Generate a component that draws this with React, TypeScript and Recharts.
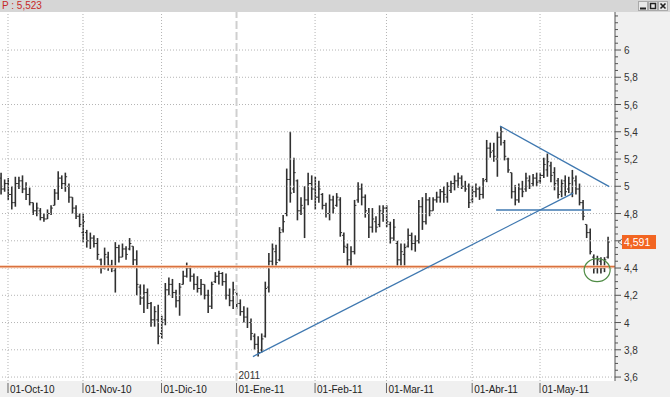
import React from 'react';
import { ComposedChart, Bar, XAxis, YAxis, CartesianGrid, ReferenceLine, ReferenceDot } from 'recharts';

// ---- data (one bar per trading session, index order) ----
const lows = [
  4.94, 4.96, 4.90, 4.83, 4.85, 4.98, 4.95, 4.90, 4.86, 4.79,
  4.78, 4.75, 4.74, 4.76, 4.79, 4.86, 4.90, 4.98, 4.96, 4.88,
  4.80, 4.76, 4.70, 4.59, 4.55, 4.54, 4.55, 4.46, 4.36, 4.39,
  4.38, 4.37, 4.22, 4.44, 4.48, 4.46, 4.53, 4.42, 4.20, 4.13,
  4.07, 4.10, 3.97, 3.97, 3.84, 3.88, 3.98, 4.20, 4.18, 4.11,
  4.05, 4.28, 4.33, 4.30, 4.24, 4.22, 4.20, 4.17, 4.07, 4.10,
  4.29, 4.28, 4.27, 4.17, 4.12, 4.10, 4.10, 4.05, 4.00, 3.96,
  3.87, 3.80, 3.75, 3.78, 3.89, 4.22, 4.40, 4.41, 4.45, 4.66,
  4.78, 4.88, 4.95, 4.75, 4.79, 4.62, 4.86, 4.90, 4.83, 4.88,
  4.83, 4.77, 4.75, 4.80, 4.85, 4.63, 4.51, 4.41, 4.41, 4.50,
  4.88, 4.86, 4.77, 4.62, 4.66, 4.66, 4.70, 4.74, 4.70, 4.58,
  4.60, 4.41, 4.41, 4.41, 4.55, 4.53, 4.52, 4.58, 4.68, 4.72,
  4.78, 4.82, 4.88, 4.88, 4.88, 4.88, 4.95, 4.97, 4.99, 4.98,
  4.96, 4.84, 4.88, 4.92, 4.90, 4.91, 5.03, 5.21, 5.18, 5.07,
  5.30, 5.19, 5.10, 4.91, 4.86, 4.88, 4.92, 4.96, 4.98, 5.00,
  5.00, 5.02, 5.06, 5.07, 5.03, 4.97, 4.91, 4.92, 4.93, 4.95,
  4.92, 4.94, 4.86, 4.75, 4.62, 4.50, 4.36, 4.36, 4.36, 4.37,
  4.47,
];
const highs = [
  5.10, 5.05, 5.06, 5.00, 5.07, 5.07, 5.08, 5.03, 4.99, 4.88,
  4.88, 4.84, 4.80, 4.83, 4.86, 4.98, 5.11, 5.08, 5.10, 5.02,
  4.92, 4.86, 4.80, 4.80, 4.68, 4.66, 4.64, 4.62, 4.47, 4.55,
  4.52, 4.46, 4.59, 4.57, 4.58, 4.56, 4.62, 4.56, 4.53, 4.28,
  4.28, 4.25, 4.15, 4.12, 4.13, 4.05, 4.29, 4.33, 4.32, 4.24,
  4.29, 4.38, 4.44, 4.42, 4.36, 4.34, 4.32, 4.28, 4.24, 4.30,
  4.37, 4.38, 4.37, 4.36, 4.25, 4.30, 4.22, 4.17, 4.12, 4.11,
  4.03, 3.92, 3.90, 3.92, 4.30, 4.51, 4.58, 4.57, 4.70, 4.79,
  5.13, 5.40, 5.21, 5.05, 4.92, 5.00, 5.10, 5.08, 5.07, 5.04,
  4.95, 4.88, 4.94, 4.93, 4.95, 4.92, 4.66, 4.58, 4.56, 4.90,
  5.03, 5.02, 4.94, 4.84, 4.84, 4.78, 4.86, 4.86, 4.86, 4.74,
  4.76, 4.60, 4.58, 4.58, 4.69, 4.66, 4.64, 4.90, 4.92, 4.95,
  4.92, 4.92, 4.96, 4.98, 5.00, 5.03, 5.04, 5.08, 5.10, 5.08,
  5.04, 5.02, 5.00, 5.02, 5.00, 5.06, 5.34, 5.32, 5.32, 5.40,
  5.44, 5.34, 5.21, 5.10, 5.01, 5.02, 5.04, 5.10, 5.08, 5.09,
  5.10, 5.10, 5.21, 5.24, 5.18, 5.14, 5.06, 5.05, 5.08, 5.07,
  5.12, 5.08, 5.02, 4.90, 4.72, 4.69, 4.50, 4.49, 4.48, 4.48,
  4.63,
];
const opens = [
  5.06, 4.98, 5.02, 4.94, 4.88, 5.02, 5.04, 4.98, 4.94, 4.88,
  4.82, 4.82, 4.77, 4.76, 4.80, 4.86, 4.95, 5.06, 5.02, 5.00,
  4.92, 4.84, 4.78, 4.66, 4.66, 4.60, 4.62, 4.58, 4.46, 4.40,
  4.48, 4.42, 4.38, 4.55, 4.48, 4.54, 4.54, 4.56, 4.46, 4.26,
  4.18, 4.22, 4.14, 4.02, 4.02, 3.92, 4.02, 4.24, 4.28, 4.22,
  4.16, 4.28, 4.34, 4.40, 4.34, 4.28, 4.25, 4.28, 4.20, 4.12,
  4.30, 4.34, 4.36, 4.30, 4.20, 4.16, 4.22, 4.14, 4.08, 4.04,
  4.00, 3.90, 3.84, 3.80, 3.90, 4.26, 4.45, 4.52, 4.46, 4.68,
  4.80, 5.05, 4.98, 5.04, 4.82, 4.84, 4.90, 5.02, 4.98, 4.92,
  4.94, 4.86, 4.80, 4.90, 4.86, 4.90, 4.64, 4.55, 4.46, 4.52,
  4.90, 4.98, 4.92, 4.80, 4.70, 4.74, 4.72, 4.80, 4.84, 4.72,
  4.62, 4.58, 4.46, 4.50, 4.56, 4.64, 4.58, 4.60, 4.85, 4.74,
  4.90, 4.82, 4.90, 4.92, 4.96, 4.92, 4.97, 5.02, 5.04, 5.06,
  5.00, 5.00, 4.90, 4.96, 4.98, 4.94, 5.05, 5.28, 5.26, 5.20,
  5.36, 5.32, 5.20, 5.10, 4.96, 4.90, 4.98, 4.98, 5.04, 5.02,
  5.06, 5.04, 5.08, 5.12, 5.15, 5.10, 5.04, 4.96, 5.04, 4.98,
  4.95, 5.04, 4.98, 4.88, 4.72, 4.66, 4.48, 4.40, 4.45, 4.40,
  4.48,
];
const closes = [
  4.98, 5.02, 4.94, 4.88, 5.02, 5.04, 4.98, 4.94, 4.88, 4.82,
  4.84, 4.77, 4.76, 4.80, 4.84, 4.95, 5.06, 5.02, 5.07, 4.92,
  4.84, 4.78, 4.72, 4.74, 4.60, 4.62, 4.58, 4.50, 4.40, 4.50,
  4.42, 4.40, 4.55, 4.48, 4.54, 4.50, 4.58, 4.46, 4.28, 4.18,
  4.22, 4.14, 4.02, 4.08, 3.90, 4.00, 4.24, 4.28, 4.22, 4.16,
  4.26, 4.34, 4.40, 4.34, 4.28, 4.25, 4.28, 4.20, 4.12, 4.28,
  4.34, 4.36, 4.30, 4.20, 4.16, 4.24, 4.14, 4.08, 4.04, 4.00,
  3.92, 3.84, 3.78, 3.88, 4.25, 4.45, 4.54, 4.44, 4.66, 4.74,
  5.05, 4.95, 5.10, 4.82, 4.86, 4.90, 5.02, 4.98, 4.92, 4.98,
  4.86, 4.80, 4.90, 4.84, 4.92, 4.66, 4.56, 4.46, 4.52, 4.86,
  4.98, 4.92, 4.82, 4.70, 4.76, 4.70, 4.82, 4.84, 4.74, 4.62,
  4.70, 4.46, 4.52, 4.55, 4.64, 4.58, 4.60, 4.85, 4.74, 4.90,
  4.82, 4.90, 4.92, 4.96, 4.94, 5.00, 5.02, 5.04, 5.06, 5.00,
  4.98, 4.88, 4.96, 4.98, 4.94, 5.04, 5.28, 5.25, 5.22, 5.36,
  5.40, 5.22, 5.12, 4.96, 4.90, 4.98, 4.96, 5.06, 5.00, 5.06,
  5.03, 5.08, 5.16, 5.18, 5.08, 5.02, 4.94, 5.02, 4.96, 5.02,
  5.06, 4.98, 4.88, 4.78, 4.66, 4.52, 4.40, 4.46, 4.40, 4.46,
  4.591,
];

// ---- axes ----
const monthTickIdx = [2, 23, 45, 66, 88, 108, 132, 151];
const monthLabels = ['01-Oct-10', '01-Nov-10', '01-Dic-10', '01-Ene-11', '01-Feb-11', '01-Mar-11', '01-Abr-11', '01-May-11'];
const priceTicks = [3.6, 3.8, 4, 4.2, 4.4, 4.6, 4.8, 5, 5.2, 5.4, 5.6, 5.8, 6];
const minorStep = 0.05;
const yDomain: [number, number] = [3.571, 6.279];
const xDomain: [number, number] = [-0.24, 172.0];

// ---- annotations ----
const yearBreakIdx = 66;
const yearLabel = '2011';
const supportLevel = 4.41;
const lastPrice = 4.591;
const lastPriceLabel = '4,591';
const headerText = 'P : 5,523';
const risingLine = [{ x: 70.6, y: 3.75 }, { x: 160.3, y: 4.95 }];
const fallingLine = [{ x: 139.8, y: 5.442 }, { x: 170.4, y: 4.997 }];
const flatLine = [{ x: 138.7, y: 4.826 }, { x: 165.3, y: 4.826 }];
const circleCenter = { x: 167, y: 4.385 };

const data = lows.map((l, i) => ({
  i,
  range: [l, highs[i]],
  l,
  h: highs[i],
  o: opens[i],
  c: closes[i],
}));

const allYTicks: number[] = [];
for (let v = priceTicks[0]; v <= yDomain[1] + 1e-9; v += minorStep) {
  allYTicks.push(Math.round(v * 100) / 100);
}
const isMajor = (v: number) => priceTicks.some((t) => Math.abs(t - v) < 1e-6);
const fmt = (v: number) => String(v).replace('.', ',');

const FONT = '"Liberation Sans", Arial, sans-serif';

const OhlcShape = (props: any) => {
  const { x, y, width, height, payload } = props;
  if (x == null || y == null || height == null) return null;
  const top = Math.min(y, y + height);
  const bottom = Math.max(y, y + height);
  const span = payload.h - payload.l || 1;
  const yOf = (v: number) => top + ((payload.h - v) / span) * (bottom - top);
  const cx = x + width / 2;
  const col = '#303030';
  return (
    <g>
      <line x1={cx} x2={cx} y1={top} y2={bottom} stroke={col} strokeWidth={1.6} />
      <line x1={cx - 1.8} x2={cx} y1={yOf(payload.o)} y2={yOf(payload.o)} stroke={col} strokeWidth={1} />
      <line x1={cx} x2={cx + 1.8} y1={yOf(payload.c)} y2={yOf(payload.c)} stroke={col} strokeWidth={1} />
    </g>
  );
};

const YTick = (props: any) => {
  const { x, y, payload } = props;
  const v = payload.value;
  const major = isMajor(v);
  // the last-price badge covers the label that sits under it
  const covered = Math.abs(v - lastPrice) < 0.05;
  return (
    <g>
      <line x1={x} x2={x + (major ? 6 : 3)} y1={y} y2={y} stroke="#555" />
      {major && !covered && (
        <text x={x + 9} y={y + 4} fontSize={10} fill="#333" fontFamily={FONT}>
          {fmt(v)}
        </text>
      )}
    </g>
  );
};

const XTick = (props: any) => {
  const { x, y, payload } = props;
  const k = monthTickIdx.indexOf(payload.value);
  return (
    <g>
      <line x1={x} x2={x} y1={y + 2} y2={y + 12} stroke="#666" />
      <text x={x + 2} y={y + 12} fontSize={10} fill="#222" fontFamily={FONT}>
        {monthLabels[k]}
      </text>
    </g>
  );
};

const PriceLabel = (props: any) => {
  const vb = props.viewBox || {};
  const rx = vb.x + vb.width;
  const cy = vb.y;
  return (
    <g>
      <path d={`M ${rx + 7} ${cy - 3} L ${rx + 3} ${cy} L ${rx + 7} ${cy + 3}`} stroke="#777" fill="none" />
      <rect x={rx + 7} y={cy - 7} width={34} height={14} fill="#f26522" />
      <text x={rx + 9} y={cy + 4} fontSize={10.5} fill="#fff" fontFamily={FONT}>
        {lastPriceLabel}
      </text>
    </g>
  );
};

const YearLabel = (props: any) => {
  const vb = props.viewBox || {};
  return (
    <text x={vb.x + 2} y={vb.y + vb.height - 2} fontSize={10} fill="#333" fontFamily={FONT}>
      {yearLabel}
    </text>
  );
};

const Ellipse = (props: any) => (
  <ellipse cx={props.cx} cy={props.cy} rx={13} ry={11.5} fill="none" stroke="#4f8c45" strokeWidth={1.2} />
);

const WindowIcons = () => (
  <svg width={30} height={11} style={{ position: 'absolute', right: 2, top: 1 }}>
    <rect x={0.5} y={0.5} width={9} height={9} fill="#e8e8e8" stroke="#aaa" />
    <line x1={2} x2={8} y1={7.5} y2={7.5} stroke="#222" strokeWidth={2} />
    <rect x={10.5} y={0.5} width={9} height={9} fill="#e8e8e8" stroke="#aaa" />
    <rect x={12.5} y={2.5} width={5} height={5} fill="none" stroke="#222" strokeWidth={1.5} />
    <rect x={20.5} y={0.5} width={9} height={9} fill="#e8e8e8" stroke="#aaa" />
    <path d="M 22.5 2.5 L 27.5 7.5 M 27.5 2.5 L 22.5 7.5" stroke="#222" strokeWidth={1.6} />
  </svg>
);

export default function App() {
  return (
    <div style={{ position: 'absolute', left: 0, top: 0, width: 670, height: 397, background: '#f0f0f0', overflow: 'hidden' }}>
      <ComposedChart
        width={670}
        height={397}
        data={data}
        margin={{ top: 12, right: 0, bottom: 0, left: 0 }}
      >
        <CartesianGrid fill="#ffffff" horizontal={false} vertical={false} stroke="none" />
        <XAxis
          dataKey="i"
          type="number"
          domain={xDomain}
          allowDataOverflow
          ticks={monthTickIdx}
          interval={0}
          height={16}
          axisLine={false}
          tickLine={false}
          tickSize={0}
          tickMargin={0}
          tick={<XTick />}
        />
        <YAxis
          orientation="right"
          type="number"
          domain={yDomain}
          allowDataOverflow
          ticks={allYTicks}
          interval={0}
          width={55}
          axisLine={{ stroke: '#555' }}
          tickLine={false}
          tickSize={0}
          tickMargin={0}
          tick={<YTick />}
        />
        {priceTicks.map((v) => (
          <ReferenceLine key={'h' + v} y={v} stroke="#b4b4b4" strokeDasharray="1 2" />
        ))}
        {monthTickIdx
          .filter((m) => m !== yearBreakIdx)
          .map((m) => (
            <ReferenceLine key={'v' + m} x={m} stroke="#b4b4b4" strokeDasharray="1 2" />
          ))}
        <ReferenceLine x={yearBreakIdx} stroke="#cfcfcf" strokeWidth={2} strokeDasharray="8 3" label={<YearLabel />} />
        <ReferenceLine y={supportLevel} stroke="#f6c9ae" strokeWidth={3} />
        <ReferenceLine y={supportLevel} stroke="#d9713f" strokeWidth={1.2} />
        <Bar dataKey="range" barSize={2} isAnimationActive={false} shape={<OhlcShape />} />
        <ReferenceLine segment={risingLine} stroke="#3f78b0" strokeWidth={1.3} ifOverflow="visible" />
        <ReferenceLine segment={fallingLine} stroke="#3f78b0" strokeWidth={1.3} ifOverflow="visible" />
        <ReferenceLine segment={flatLine} stroke="#3f78b0" strokeWidth={1.3} ifOverflow="visible" />
        <ReferenceDot x={circleCenter.x} y={circleCenter.y} shape={<Ellipse />} ifOverflow="visible" />
        <ReferenceLine y={lastPrice} stroke="none" label={<PriceLabel />} ifOverflow="visible" />
      </ComposedChart>
      <div
        style={{
          position: 'absolute',
          left: 0,
          top: 0,
          width: 670,
          height: 12,
          background: '#d6d6d6',
          fontFamily: FONT,
          fontSize: 10,
          lineHeight: '12px',
          color: '#c62828',
          paddingLeft: 2,
          boxSizing: 'border-box',
        }}
      >
        {headerText}
        <WindowIcons />
      </div>
    </div>
  );
}
